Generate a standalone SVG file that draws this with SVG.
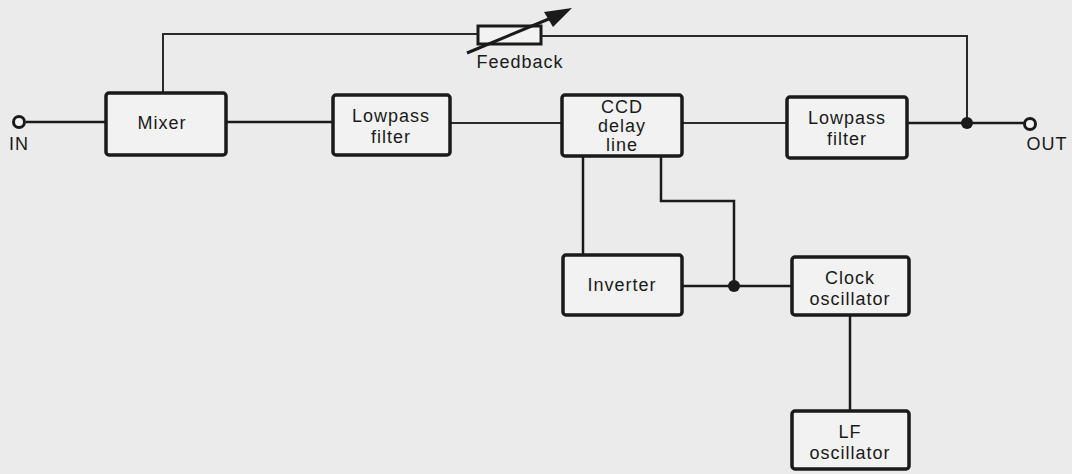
<svg xmlns="http://www.w3.org/2000/svg" width="1072" height="474" viewBox="0 0 1072 474">
<defs>
<style>
.box{fill:#f2f2f2;stroke:#1a1a1a;stroke-width:3.5}
.w{fill:none;stroke:#1a1a1a;stroke-width:2.5}
.thin{fill:none;stroke:#2a2a2a;stroke-width:2}
.t{font-family:"Liberation Sans",Arial,sans-serif;font-size:18px;fill:#1a1a1a;text-anchor:middle;letter-spacing:1px}
.dot{fill:#1a1a1a}
.term{fill:#f2f2f2;stroke:#1a1a1a;stroke-width:3}
</style>
</defs>
<rect width="1072" height="474" fill="#ebebeb"/>
<g id="connectors">
<path class="w" d="M26,122 H106"/>
<path class="w" d="M226,122 H333"/>
<path class="thin" d="M450,123 H562"/>
<path class="thin" d="M682,123 H787"/>
<path class="w" d="M907,123 H1024"/>
<path class="thin" d="M163,93 V34 H478"/>
<path class="thin" d="M542,36 H967 V123"/>
<path class="w" d="M583,156 V255"/>
<path class="w" d="M661,156 V201 H734 V286"/>
<path class="w" d="M682,286 H792"/>
<path class="w" d="M850,315 V411"/>
<circle class="dot" cx="967" cy="123" r="6"/>
<circle class="dot" cx="734" cy="286" r="6"/>
</g>
<g id="in">
<circle class="term" cx="19" cy="122" r="5.5"/>
<text class="t" x="19" y="150">IN</text>
</g>
<g id="out">
<circle class="term" cx="1030" cy="124" r="5.5"/>
<text class="t" x="1047" y="150">OUT</text>
</g>
<g id="feedback">
<rect x="478" y="26" width="63" height="18" fill="#f2f2f2" stroke="#1a1a1a" stroke-width="3"/>
<line x1="467" y1="53" x2="556" y2="16" stroke="#1a1a1a" stroke-width="3"/>
<path d="M572,8 L544,12 L553,27 Z" fill="#1a1a1a"/>
<text class="t" x="520" y="68">Feedback</text>
</g>
<g id="mixer">
<rect class="box" x="106" y="93" width="120" height="62" rx="3"/>
<text class="t" x="162" y="129">Mixer</text>
</g>
<g id="lpf1">
<rect class="box" x="333" y="95" width="117" height="60" rx="3"/>
<text class="t" x="391" y="122">Lowpass</text>
<text class="t" x="391" y="143">filter</text>
</g>
<g id="ccd">
<rect class="box" x="562" y="95" width="120" height="61" rx="3"/>
<text class="t" x="622" y="113">CCD</text>
<text class="t" x="622" y="132">delay</text>
<text class="t" x="622" y="151">line</text>
</g>
<g id="lpf2">
<rect class="box" x="787" y="97" width="120" height="61" rx="3"/>
<text class="t" x="847" y="124">Lowpass</text>
<text class="t" x="847" y="145">filter</text>
</g>
<g id="inverter">
<rect class="box" x="563" y="255" width="119" height="60" rx="3"/>
<text class="t" x="622" y="291">Inverter</text>
</g>
<g id="clock">
<rect class="box" x="792" y="257" width="117" height="58" rx="3"/>
<text class="t" x="850" y="284">Clock</text>
<text class="t" x="850" y="305">oscillator</text>
</g>
<g id="lfo">
<rect class="box" x="792" y="411" width="117" height="58" rx="3"/>
<text class="t" x="850" y="438">LF</text>
<text class="t" x="850" y="459">oscillator</text>
</g>
</svg>
